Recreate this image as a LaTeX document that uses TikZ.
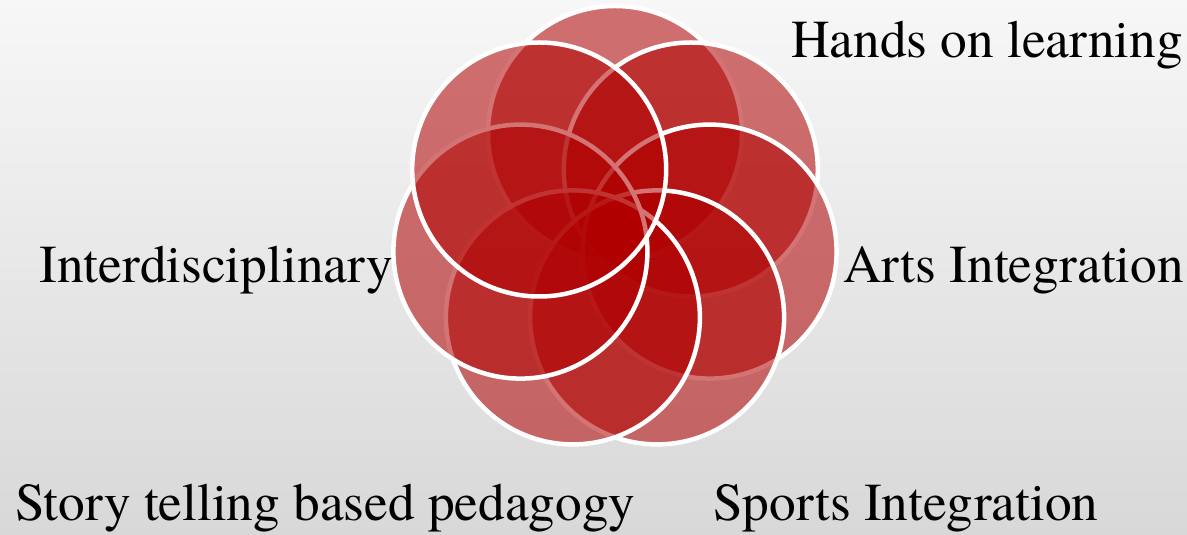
\documentclass[tikz,border=0pt]{standalone}
\usepackage{fontspec}
\setmainfont{TeX Gyre Termes}
\definecolor{petalred}{RGB}{176,0,0}
\definecolor{paperlight}{RGB}{247,247,247}
\definecolor{paperdark}{RGB}{216,216,216}

\begin{document}
\begin{tikzpicture}[x=1pt,y=1pt,
    petal/.style ={circle, draw=white, line width=4.5pt, fill=petalred,
      fill opacity=0.55, draw opacity=1, minimum size=254pt, inner sep=0pt},
    caption/.style ={inner sep=0pt, font=\fontsize{53.3}{60}\selectfont}]
   \fill[top color=paperlight, bottom color=paperdark] (0,0) rectangle (1187,535);
   \useasboundingbox (0,0) rectangle (1187,535);
   \node[petal] (P1) at (615,402)  {};
   \node[petal] (P2) at (690.8,365.5)  {};
   \node[petal] (P3) at (709.6,283.4)  {};
   \node[petal] (P4) at (657.1,217.6)  {};
   \node[petal] (P5) at (572.9,217.6)  {};
   \node[petal] (P6) at (520.4,283.4)  {};
   \node[petal] (P7) at (539.2,365.5)  {};
   \node[caption, anchor=base west] (hands) at (791,477) {Hands on learning};
   \node[caption, anchor=base west] (arts) at (843,252) {Arts Integration};
   \node[caption, anchor=base east] (inter) at (393,252) {Interdisciplinary};
   \node[caption, anchor=base west] (story) at (15,14) {Story telling based pedagogy};
   \node[caption, anchor=base west] (sports) at (713,14) {Sports Integration};
 \end{tikzpicture}
\end{document}
